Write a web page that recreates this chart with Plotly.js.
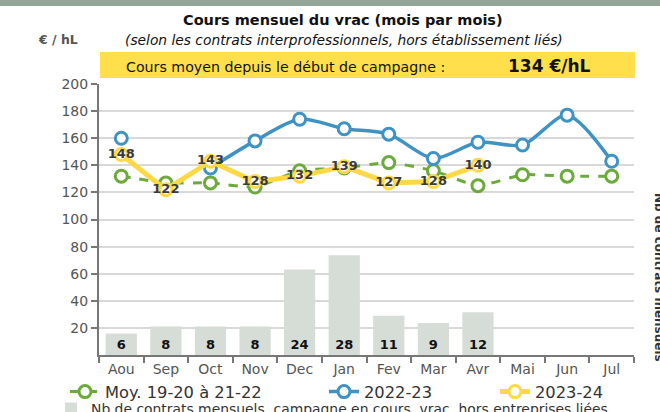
<!DOCTYPE html>
<html>
<head>
<meta charset="utf-8">
<script src="https://cdn.plot.ly/plotly-3.0.1.min.js"></script>
<style>html,body{margin:0;padding:0;background:#fff;}#chart{width:660px;height:412px;}</style>
</head>
<body>
<div id="chart"></div>
<script>
const months = ["Aou","Sep","Oct","Nov","Dec","Jan","Fev","Mar","Avr","Mai","Jun","Jul"];
const moyenne = [132, 127, 127, 124, 136, 138, 142, 136, 125, 133, 132, 132];
const campagne2223 = [160, null, 138, 158, 174, 167, 163, 145, 157, 155, 177, 143];
const campagne2324 = [148, 122, 143, 128, 132, 139, 127, 128, 140];
const nbContrats = [6, 8, 8, 8, 24, 28, 11, 9, 12];
const yTicks = [20, 40, 60, 80, 100, 120, 140, 160, 180, 200];

const FONT = "DejaVu Sans, sans-serif";
const GREEN = "#6cab3b", BLUE = "#3f93c4", YELLOW = "#ffd945", BAR = "#d6dcd6";

const traces = [
  {
    type: "bar", x: months.slice(0, nbContrats.length), y: nbContrats, yaxis: "y2",
    name: "Nb de contrats mensuels, campagne en cours, vrac, hors entreprises liées",
    marker: {color: BAR}, width: 0.7,
    text: nbContrats.map(String), textposition: "inside", insidetextanchor: "start",
    constraintext: "none",
    textangle: 0, textfont: {family: FONT, size: 13, color: "#111", weight: "bold"},
    legend: "legend2", hoverinfo: "skip"
  },
  {
    type: "scatter", mode: "lines+markers", x: months, y: moyenne,
    name: "Moy. 19-20 à 21-22", legend: "legend",
    line: {color: GREEN, width: 3, dash: "dash", shape: "spline", smoothing: 0.5},
    marker: {symbol: "circle", size: 12, color: "#fff", line: {color: GREEN, width: 3}}
  },
  {
    type: "scatter", mode: "lines+markers", x: months, y: campagne2223,
    name: "2022-23", connectgaps: false, legend: "legend3",
    line: {color: BLUE, width: 3.5, shape: "spline", smoothing: 0.8},
    marker: {symbol: "circle", size: 12, color: "#fff", line: {color: BLUE, width: 3}}
  },
  {
    type: "scatter", mode: "lines+markers+text", x: months.slice(0, campagne2324.length), y: campagne2324,
    name: "2023-24", legend: "legend4",
    line: {color: YELLOW, width: 5},
    marker: {symbol: "circle", size: 12, color: "#fff", line: {color: YELLOW, width: 3}},
    text: campagne2324.map(String), textposition: "middle center",
    textfont: {family: FONT, size: 13, color: "#3a3a3a", weight: "bold"}
  }
];

const W = 535, H = 271, L = 99, T = 84;
const px = x => (x - L) / W;
const py = y => (T + H - y) / H;
const cx = x => x / 660;
const cy = y => (412 - y) / 412;

function leg(x, y, size) {
  return {
    orientation: "h", xref: "container", yref: "container",
    x: cx(x), xanchor: "left", y: cy(y), yanchor: "middle",
    font: {family: FONT, size: size, color: "#333"}, bgcolor: "rgba(0,0,0,0)",
    borderwidth: 0
  };
}

const layout = {
  width: 660, height: 412,
  margin: {l: L, r: 660 - L - W, t: T, b: 412 - T - H},
  paper_bgcolor: "#fff", plot_bgcolor: "#fff",
  font: {family: FONT, color: "#555"},
  showlegend: true,
  xaxis: {
    type: "category", categoryorder: "array", categoryarray: months,
    range: [-0.5, 11.5],
    tickson: "boundaries", ticks: "outside", ticklen: 6, tickwidth: 2, tickcolor: "#777",
    showline: true, linecolor: "#777", linewidth: 2,
    tickfont: {family: FONT, size: 14, color: "#555"},
    showgrid: false, zeroline: false
  },
  yaxis: {
    range: [0, 200], tickvals: yTicks,
    ticks: "outside", ticklen: 6, tickwidth: 2, tickcolor: "#777",
    showline: true, linecolor: "#777", linewidth: 2,
    gridcolor: "#d9d9d9", gridwidth: 2,
    tickfont: {family: FONT, size: 14, color: "#555"},
    zeroline: false
  },
  yaxis2: {
    range: [0, 76], overlaying: "y", side: "right",
    showgrid: false, showticklabels: false, ticks: "", showline: false, zeroline: false
  },
  legend: leg(65, 392, 16.3),
  legend3: leg(324, 392, 16.3),
  legend4: leg(495, 392, 16.3),
  legend2: leg(51, 409, 13.9),
  shapes: [
    {type: "rect", xref: "paper", yref: "paper", x0: px(-5), x1: px(665), y0: py(-5), y1: py(6),
     fillcolor: "#92a596", line: {width: 0}, layer: "below"},
    {type: "rect", xref: "paper", yref: "paper", x0: px(100), x1: px(635), y0: py(52), y1: py(78),
     fillcolor: "#ffe04c", line: {width: 0}, layer: "below"}
  ],
  annotations: [
    {xref: "paper", yref: "paper", x: px(343), y: py(20), xanchor: "center", yanchor: "middle", showarrow: false,
     text: "<b>Cours mensuel du vrac (mois par mois)</b>", font: {family: FONT, size: 14.5, color: "#111"}},
    {xref: "paper", yref: "paper", x: px(344), y: py(40), xanchor: "center", yanchor: "middle", showarrow: false,
     text: "<i>(selon les contrats interprofessionnels, hors établissement liés)</i>", font: {family: FONT, size: 13.8, color: "#111"}},
    {xref: "paper", yref: "paper", x: px(58), y: py(40), xanchor: "center", yanchor: "middle", showarrow: false,
     text: "<b>€ / hL</b>", font: {family: FONT, size: 12.5, color: "#555"}},
    {xref: "paper", yref: "paper", x: px(285), y: py(67), xanchor: "center", yanchor: "middle", showarrow: false,
     text: "Cours moyen depuis le début de campagne :", font: {family: FONT, size: 14.2, color: "#111"}},
    {xref: "paper", yref: "paper", x: px(549), y: py(66), xanchor: "center", yanchor: "middle", showarrow: false,
     text: "<b>134 €/hL</b>", font: {family: FONT, size: 17, color: "#111"}},
    {xref: "paper", yref: "paper", x: px(659), y: py(277), xanchor: "center", yanchor: "middle", showarrow: false,
     textangle: 90, text: "<b>Nb de contrats mensuels</b>", font: {family: FONT, size: 12, color: "#333"}}
  ]
};

Plotly.newPlot("chart", traces, layout, {displayModeBar: false, staticPlot: true});
</script>
</body>
</html>
